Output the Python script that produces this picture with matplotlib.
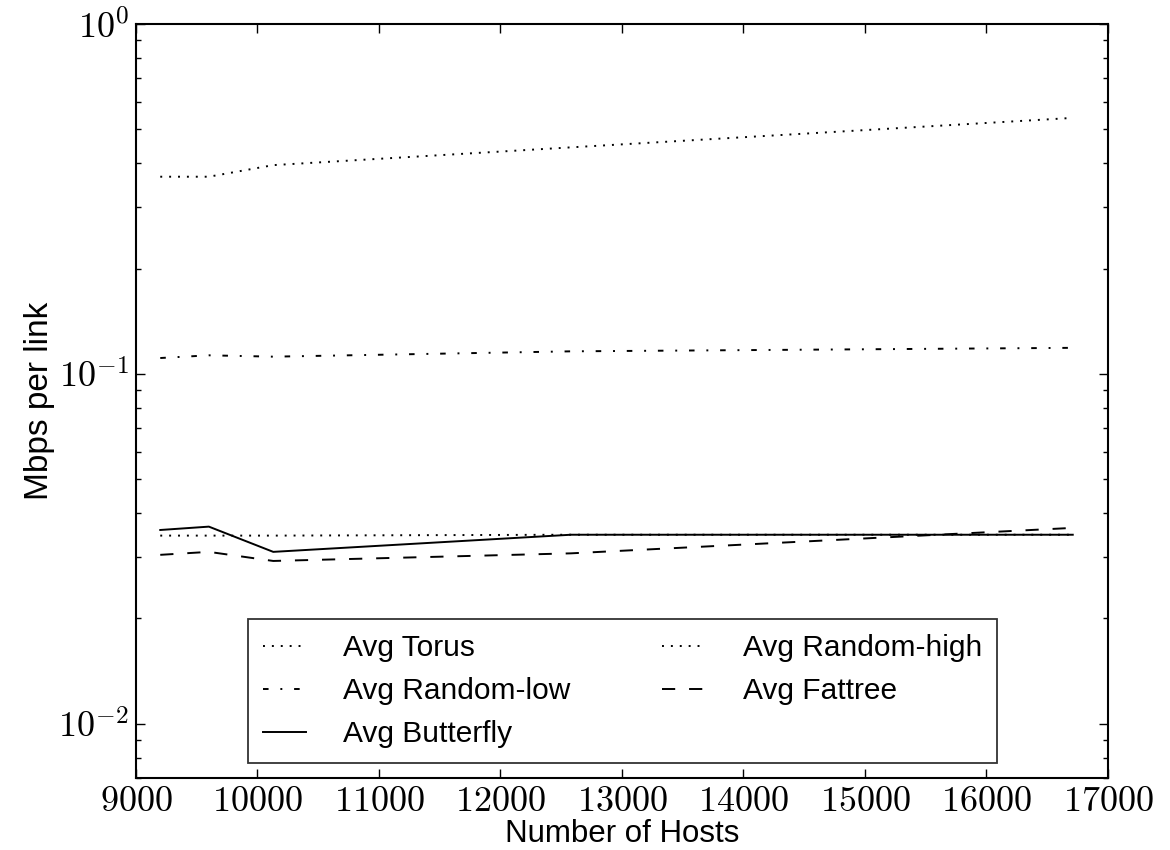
import math
import matplotlib
matplotlib.use("Agg")
import matplotlib.pyplot as plt
from matplotlib.ticker import FuncFormatter, LogLocator, FixedLocator

# ---- data ----
hosts = [9200, 9600, 10130, 12580, 16710]
avg_torus = [0.0345, 0.0345, 0.0345, 0.0347, 0.0347]
avg_random_low = [0.111, 0.113, 0.112, 0.116, 0.1187]
avg_butterfly = [0.0358, 0.0366, 0.0310, 0.0347, 0.0347]
avg_random_high = [0.366, 0.366, 0.395, 0.444, 0.539]
avg_fattree = [0.0304, 0.0310, 0.0292, 0.0307, 0.0363]
labels = ["Avg Torus", "Avg Random-low", "Avg Butterfly", "Avg Random-high", "Avg Fattree"]
x_ticks = [9000, 10000, 11000, 12000, 13000, 14000, 15000, 16000, 17000]
y_ticks = [0.01, 0.1, 1.0]

plt.rcParams['mathtext.fontset'] = 'cm'
plt.rcParams['font.family'] = ['Liberation Sans', 'DejaVu Sans']
plt.rcParams['lines.scale_dashes'] = False

fig = plt.figure(figsize=(11.7, 8.5), dpi=100)
ax = fig.add_axes([0.1162, 0.0847, 0.8308, 0.8871])

lw = 1.4
ax.plot(hosts, avg_torus, color='black', lw=lw, dashes=(1.4, 5.0), label=labels[0])
ax.plot(hosts, avg_random_low, color='black', lw=lw, dashes=(4.0, 8.5, 1.4, 8.5), label=labels[1])
ax.plot(hosts, avg_butterfly, color='black', lw=lw, label=labels[2])
ax.plot(hosts, avg_random_high, color='black', lw=lw, dashes=(1.4, 5.0), label=labels[3])
ax.plot(hosts, avg_fattree, color='black', lw=lw, dashes=(9.5, 10.0), label=labels[4])

ax.set_yscale('log')
ax.set_xlim(9000, 17000)
ax.set_ylim(0.007, 1.0)

ax.xaxis.set_major_locator(FixedLocator(x_ticks))
ax.xaxis.set_major_formatter(FuncFormatter(lambda v, p: r'$%d$' % int(round(v))))
ax.yaxis.set_major_locator(FixedLocator(y_ticks))
ax.yaxis.set_major_formatter(FuncFormatter(lambda v, p: r'$10^{%d}$' % int(round(math.log10(v)))))
ax.yaxis.set_minor_locator(LogLocator(base=10, subs=range(2, 10)))
ax.yaxis.set_minor_formatter(FuncFormatter(lambda v, p: ''))

ax.tick_params(which='both', direction='in', top=True, right=True, colors='black')
ax.tick_params(which='major', length=6.5, width=1.0)
ax.tick_params(which='minor', length=3.4, width=1.0)
ax.tick_params(axis='x', which='major', labelsize=26, pad=4)
ax.tick_params(axis='y', which='major', labelsize=26, pad=5)
for s in ax.spines.values():
    s.set_linewidth(1.5)

ax.set_xlabel('Number of Hosts', fontsize=22.5, labelpad=0)
ax.set_ylabel('Mbps per link', fontsize=24, labelpad=2)

leg = ax.legend(ncol=2, loc='lower left', bbox_to_anchor=(0.115, 0.02, 0.771, 0.19),
                mode='expand', borderaxespad=0.0, fontsize=21.5, frameon=True, fancybox=False,
                handlelength=1.45, labelspacing=0.5, borderpad=0.5, handletextpad=1.25)
leg.get_frame().set_edgecolor('black')
leg.get_frame().set_linewidth(1.3)

fig.savefig('out.png', dpi=100)
